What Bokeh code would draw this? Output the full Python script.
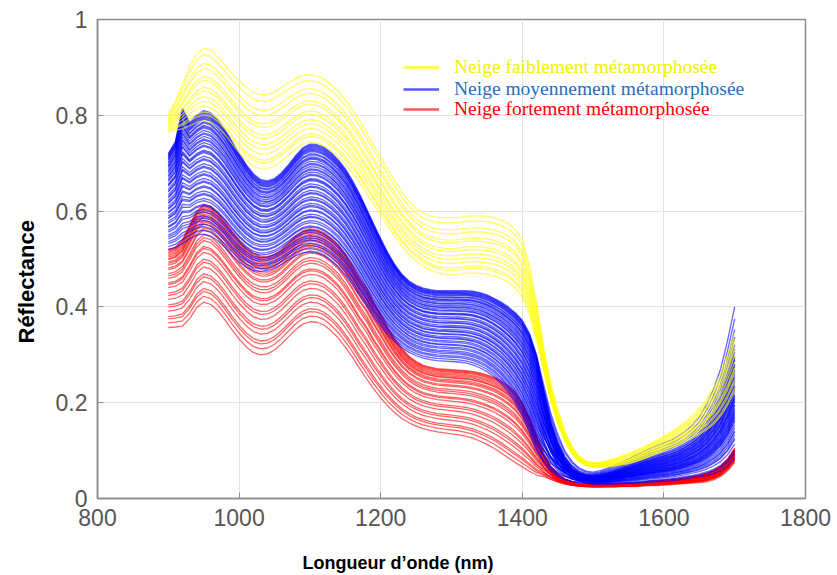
import numpy as np
from bokeh.plotting import figure
from bokeh.models import Range1d, FixedTicker, Title, Legend, LegendItem
from bokeh.embed import file_html
from bokeh.resources import INLINE

# ---------------- data ----------------
WAVELENGTH = list(range(900, 1701, 10))

# envelopes (highest / lowest spectrum) of each snow class, every 10 nm
YELLOW_HIGH = [0.80, 0.83, 0.865, 0.90, 0.928, 0.94, 0.936, 0.922, 0.905, 0.887,
               0.872, 0.858, 0.848, 0.843, 0.843, 0.849, 0.858, 0.868, 0.877, 0.884,
               0.885, 0.882, 0.875, 0.864, 0.85, 0.833, 0.812, 0.789, 0.764, 0.738,
               0.712, 0.686, 0.662, 0.64, 0.621, 0.606, 0.596, 0.59, 0.587, 0.586,
               0.586, 0.587, 0.589, 0.59, 0.59, 0.589, 0.586, 0.581, 0.574, 0.562,
               0.54, 0.485, 0.41, 0.32, 0.245, 0.19, 0.145, 0.112, 0.09, 0.079,
               0.075, 0.076, 0.079, 0.083, 0.088, 0.094, 0.10, 0.107, 0.114, 0.122,
               0.13, 0.139, 0.149, 0.16, 0.173, 0.188, 0.207, 0.23, 0.26, 0.30, 0.345]
YELLOW_LOW = [0.765, 0.768, 0.772, 0.778, 0.785, 0.789, 0.786, 0.776, 0.76, 0.741,
              0.722, 0.705, 0.694, 0.688, 0.688, 0.694, 0.704, 0.717, 0.73, 0.74,
              0.745, 0.743, 0.736, 0.726, 0.713, 0.698, 0.68, 0.66, 0.638, 0.615,
              0.592, 0.569, 0.547, 0.527, 0.51, 0.496, 0.485, 0.477, 0.471, 0.468,
              0.467, 0.468, 0.47, 0.471, 0.47, 0.468, 0.465, 0.46, 0.452, 0.44,
              0.42, 0.385, 0.33, 0.265, 0.20, 0.15, 0.115, 0.09, 0.075, 0.068,
              0.065, 0.065, 0.066, 0.068, 0.07, 0.073, 0.077, 0.082, 0.088, 0.094,
              0.10, 0.106, 0.112, 0.119, 0.126, 0.134, 0.143, 0.155, 0.172, 0.195, 0.225]
BLUE_HIGH = [0.72, 0.745, 0.815, 0.785, 0.80, 0.81, 0.805, 0.79, 0.77, 0.745,
             0.72, 0.697, 0.678, 0.666, 0.663, 0.668, 0.68, 0.697, 0.716, 0.732,
             0.74, 0.739, 0.733, 0.722, 0.707, 0.688, 0.664, 0.636, 0.605, 0.573,
             0.542, 0.513, 0.488, 0.468, 0.454, 0.445, 0.439, 0.436, 0.434, 0.434,
             0.434, 0.434, 0.434, 0.433, 0.43, 0.425, 0.418, 0.41, 0.40, 0.388,
             0.372, 0.345, 0.30, 0.24, 0.18, 0.135, 0.10, 0.078, 0.064, 0.057,
             0.055, 0.058, 0.063, 0.069, 0.076, 0.083, 0.09, 0.097, 0.104, 0.11,
             0.116, 0.122, 0.13, 0.14, 0.153, 0.17, 0.195, 0.228, 0.27, 0.33, 0.40]
BLUE_LOW = [0.52, 0.524, 0.532, 0.542, 0.55, 0.552, 0.548, 0.538, 0.524, 0.508,
            0.494, 0.483, 0.476, 0.474, 0.476, 0.481, 0.489, 0.498, 0.507, 0.513,
            0.515, 0.513, 0.507, 0.497, 0.484, 0.467, 0.447, 0.425, 0.402, 0.38,
            0.36, 0.342, 0.327, 0.315, 0.305, 0.298, 0.293, 0.29, 0.288, 0.287,
            0.286, 0.285, 0.283, 0.279, 0.273, 0.265, 0.254, 0.24, 0.222, 0.20,
            0.172, 0.138, 0.10, 0.07, 0.05, 0.04, 0.035, 0.032, 0.031, 0.03,
            0.03, 0.03, 0.03, 0.03, 0.031, 0.031, 0.032, 0.033, 0.034, 0.035,
            0.036, 0.037, 0.039, 0.041, 0.043, 0.045, 0.048, 0.052, 0.058, 0.068, 0.085]
RED_HIGH = [0.52, 0.525, 0.54, 0.57, 0.60, 0.614, 0.61, 0.596, 0.578, 0.558,
            0.54, 0.524, 0.512, 0.506, 0.505, 0.51, 0.52, 0.534, 0.548, 0.559,
            0.563, 0.561, 0.555, 0.544, 0.53, 0.51, 0.486, 0.46, 0.44, 0.41,
            0.385, 0.357, 0.333, 0.313, 0.297, 0.286, 0.278, 0.274, 0.271, 0.27,
            0.269, 0.268, 0.267, 0.265, 0.262, 0.258, 0.253, 0.246, 0.236, 0.222,
            0.20, 0.17, 0.132, 0.097, 0.07, 0.053, 0.042, 0.035, 0.031, 0.03,
            0.029, 0.029, 0.03, 0.03, 0.031, 0.032, 0.033, 0.034, 0.036, 0.037,
            0.038, 0.04, 0.041, 0.043, 0.046, 0.049, 0.053, 0.059, 0.068, 0.083, 0.105]
RED_LOW = [0.357, 0.358, 0.36, 0.375, 0.398, 0.41, 0.405, 0.392, 0.373, 0.352,
           0.333, 0.317, 0.305, 0.30, 0.302, 0.31, 0.323, 0.338, 0.353, 0.364,
           0.369, 0.368, 0.362, 0.35, 0.335, 0.316, 0.295, 0.272, 0.25, 0.229,
           0.21, 0.193, 0.179, 0.167, 0.158, 0.151, 0.146, 0.142, 0.139, 0.137,
           0.135, 0.133, 0.13, 0.126, 0.12, 0.113, 0.105, 0.095, 0.085, 0.075,
           0.066, 0.057, 0.049, 0.042, 0.036, 0.031, 0.028, 0.026, 0.025, 0.024,
           0.024, 0.024, 0.024, 0.024, 0.025, 0.025, 0.025, 0.026, 0.027, 0.027,
           0.028, 0.029, 0.03, 0.031, 0.032, 0.033, 0.035, 0.039, 0.046, 0.058, 0.075]

# relative position of every measured spectrum between its class envelopes:
# in the 900-1420 nm part and in the 1500-1700 nm part
YELLOW_LEVELS = [0.00, 0.08, 0.12, 0.20, 0.27, 0.33, 0.41, 0.46, 0.56, 0.61, 0.72, 0.79, 0.91, 1.00]
YELLOW_TAIL = [0.60, 0.20, 0.85, 0.40, 0.05, 0.70, 0.30, 1.00, 0.50, 0.15, 0.90, 0.35, 0.00, 0.75]
BLUE_LEVELS = [0.00, 0.03, 0.06, 0.08, 0.11, 0.13, 0.15, 0.18, 0.20, 0.23,
               0.24, 0.27, 0.29, 0.32, 0.33, 0.35, 0.38, 0.39, 0.42, 0.43,
               0.45, 0.48, 0.49, 0.51, 0.54, 0.55, 0.57, 0.60, 0.61, 0.63,
               0.66, 0.67, 0.68, 0.71, 0.72, 0.74, 0.76, 0.77, 0.79, 0.81,
               0.82, 0.84, 0.86, 0.87, 0.88, 0.90, 0.91, 0.93, 0.94, 0.95,
               0.96, 0.97, 0.98, 0.99, 1.00]
BLUE_TAIL = [0.35, 0.12, 0.55, 0.28, 0.70, 0.05, 0.42, 0.62, 0.18, 0.48,
             0.33, 0.80, 0.25, 0.58, 0.09, 0.45, 0.67, 0.30, 0.52, 0.15,
             0.40, 0.75, 0.22, 0.60, 0.37, 0.03, 0.50, 0.27, 0.65, 0.44,
             0.20, 0.56, 0.32, 0.85, 0.13, 0.47, 0.38, 0.62, 0.24, 0.53,
             0.00, 0.41, 0.72, 0.29, 0.58, 0.17, 0.46, 0.35, 0.92, 0.26,
             0.51, 0.66, 0.39, 1.00, 0.31]
RED_LEVELS = [0.00, 0.06, 0.11, 0.14, 0.21, 0.26, 0.29, 0.36, 0.41, 0.44,
              0.51, 0.55, 0.57, 0.63, 0.66, 0.69, 0.74, 0.76, 0.80, 0.82,
              0.84, 0.87, 0.88, 0.90, 0.92, 0.94, 0.96, 0.975, 0.99, 1.00]
RED_TAIL = [0.50, 0.80, 0.20, 0.65, 0.35, 0.90, 0.10, 0.55, 0.75, 0.30,
            0.00, 0.60, 0.45, 0.85, 0.25, 0.70, 0.40, 0.95, 0.15, 0.60,
            0.50, 1.00, 0.30, 0.80, 0.65, 0.20, 0.90, 0.45, 0.70, 0.55]

CLASS_LABELS = ["Neige faiblement métamorphosée",
                "Neige moyennement métamorphosée",
                "Neige fortement métamorphosée"]
X_TITLE = "Longueur d\u2019onde (nm)"
Y_TITLE = "Réflectance"
X_TICKS = [800, 1000, 1200, 1400, 1600, 1800]
Y_TICKS = [0, 0.2, 0.4, 0.6, 0.8, 1]
Y_TICK_LABELS = ["0", "0.2", "0.4", "0.6", "0.8", "1"]

for arr in (YELLOW_HIGH, YELLOW_LOW, BLUE_HIGH, BLUE_LOW, RED_HIGH, RED_LOW):
    assert len(arr) == len(WAVELENGTH), len(arr)
assert len(YELLOW_LEVELS) == len(YELLOW_TAIL)
assert len(BLUE_LEVELS) == len(BLUE_TAIL)
assert len(RED_LEVELS) == len(RED_TAIL)

# ---------------- figure ----------------
p = figure(width=837, height=575, output_backend="svg", toolbar_location=None,
           x_range=Range1d(800, 1800), y_range=Range1d(0, 1),
           min_border_left=97, min_border_right=32, min_border_top=19, min_border_bottom=77,
           background_fill_color="white", border_fill_color="white")
p.outline_line_color = "#8c8c8c"
p.outline_line_width = 1.5

AX_COL = "#8c8c8c"
LAB_COL = "#555555"
for ax in (p.xaxis[0], p.yaxis[0]):
    ax.axis_line_color = AX_COL
    ax.axis_line_width = 1.5
    ax.major_tick_line_color = AX_COL
    ax.major_tick_in = 6
    ax.major_tick_out = 0
    ax.minor_tick_line_color = None
    ax.major_label_text_font = "Liberation Sans"
    ax.major_label_text_font_size = "23px"
    ax.major_label_text_color = LAB_COL
    ax.major_label_standoff = 10

p.xaxis.ticker = FixedTicker(ticks=X_TICKS)
p.yaxis.ticker = FixedTicker(ticks=Y_TICKS)
p.yaxis.major_label_overrides = {t: s for t, s in zip(Y_TICKS, Y_TICK_LABELS)}

p.xgrid.ticker = FixedTicker(ticks=X_TICKS)
p.ygrid.ticker = FixedTicker(ticks=Y_TICKS)
p.grid.grid_line_color = "#e3e3e3"
p.grid.grid_line_width = 1

# axis titles
x_title = Title(text=X_TITLE, align="left", offset=205, vertical_align="bottom",
                text_font="Liberation Sans", text_font_style="bold",
                text_font_size="18px", text_color="black", standoff=25)
try:
    x_title.padding = dict(top=22, bottom=0, left=0, right=0)
    x_title.standoff = 0
except Exception:
    x_title.standoff = 25
p.add_layout(x_title, "below")
p.add_layout(Title(text=Y_TITLE, align="left", offset=155, vertical_align="top",
                   text_font="Liberation Sans", text_font_style="bold",
                   text_font_size="22px", text_color="black", standoff=24), "left")

# ---------------- spectra ----------------
wl = np.array(WAVELENGTH, dtype=float)
tail_weight = np.clip((wl - 1420.0) / 80.0, 0.0, 1.0)

def spectra(high, low, levels, tails):
    hi = np.array(high)
    lo = np.array(low)
    ys = []
    for t, u in zip(levels, tails):
        frac = t * (1.0 - tail_weight) + u * tail_weight
        ys.append(list(lo + (hi - lo) * frac))
    return [list(wl) for _ in levels], ys

groups = [
    (RED_HIGH, RED_LOW, RED_LEVELS, RED_TAIL, "#ff0000"),
    (BLUE_HIGH, BLUE_LOW, BLUE_LEVELS, BLUE_TAIL, "#0000ff"),
    (YELLOW_HIGH, YELLOW_LOW, YELLOW_LEVELS, YELLOW_TAIL, "#ffff00"),
]
for high, low, levels, tails, col in groups:
    xs, ys = spectra(high, low, levels, tails)
    p.multi_line(xs, ys, line_color=col, line_alpha=0.6, line_width=1.3)

# ---------------- legend (one per class, each with its own text colour) ----------------
legend_specs = [
    (YELLOW_HIGH, "#ffff00", "#f2f200", CLASS_LABELS[0], 420),
    (BLUE_HIGH, "#3030ff", "#1f6fc4", CLASS_LABELS[1], 398),
    (RED_HIGH, "#ff3030", "#ff0000", CLASS_LABELS[2], 378),
]
for series, line_col, text_col, label, ypos in legend_specs:
    key = p.line(WAVELENGTH, series, line_color=line_col, line_alpha=0.8,
                 line_width=2.5, visible=False)
    lg = Legend(items=[LegendItem(label=label, renderers=[key])],
                location=(306, ypos), padding=0, margin=0, spacing=0,
                border_line_alpha=0, background_fill_alpha=0,
                inactive_fill_color="white", inactive_fill_alpha=0.3,
                glyph_width=36, glyph_height=20, label_height=20, label_standoff=15,
                label_text_font="Liberation Serif", label_text_font_size="19.5px",
                label_text_color=text_col)
    p.add_layout(lg, "center")

open("out.html", "w").write(file_html(p, INLINE))
